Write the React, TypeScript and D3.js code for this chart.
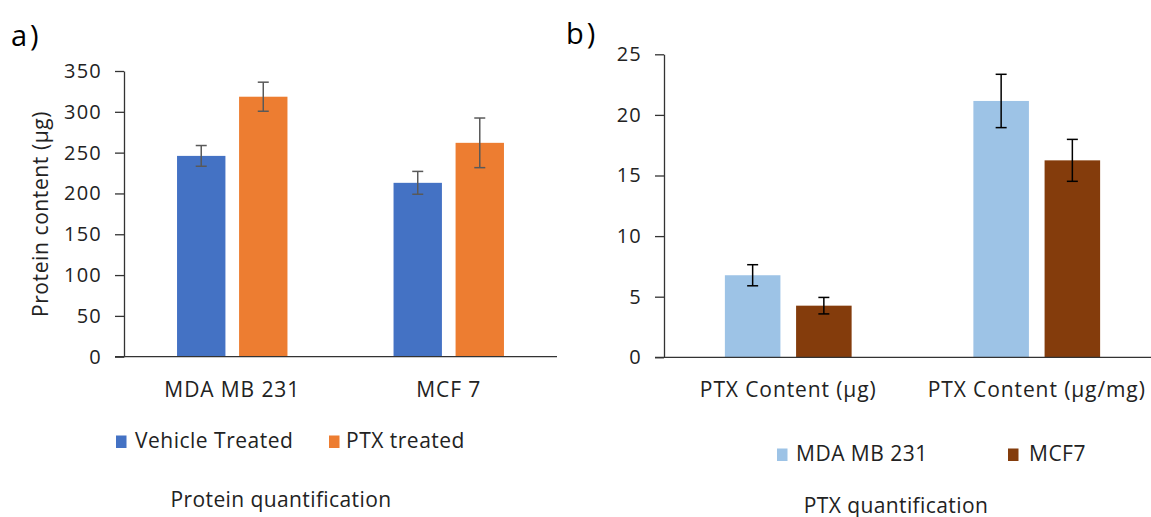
import { useEffect, useRef } from "react";
import * as d3 from "d3";

// Panel a) protein quantification
const proteinCategories = ["MDA MB 231", "MCF 7"];
const proteinSeries = ["Vehicle Treated", "PTX treated"];
const proteinVehicle = [246, 213];
const proteinVehicleErr = [12.7, 14];
const proteinPtx = [318.5, 262];
const proteinPtxErr = [17.8, 30.4];
const proteinTicks = [0, 50, 100, 150, 200, 250, 300, 350];

// Panel b) PTX quantification
const ptxCategories = ["PTX Content (µg)", "PTX Content (µg/mg)"];
const ptxSeries = ["MDA MB 231", "MCF7"];
const ptxMda = [6.77, 21.15];
const ptxMdaErr = [0.87, 2.2];
const ptxMcf = [4.26, 16.25];
const ptxMcfErr = [0.68, 1.73];
const ptxTicks = [0, 5, 10, 15, 20, 25];

const FONT = "'Open Sans', 'Noto Sans', sans-serif";
const TEXT = "#222";

type Panel = {
  categories: string[];
  series: string[];
  values: number[][];
  errors: number[][];
  colors: string[];
  errColor: string;
  ticks: number[];
  x: [number, number];
  y: [number, number];
  legend: { box: number[]; text: number[]; y: number };
  title: { text: string; x: number; y: number };
  label: { text: string; x: number; y: number };
  yTitle?: { text: string; x: number; y: number };
};

const App = () => {
  const svgRef = useRef<SVGSVGElement>(null);

  useEffect(() => {
    const svg = d3.select(svgRef.current);
    svg.selectAll("*").remove();

    const drawPanel = (p: Panel) => {
      const g = svg.append("g");
      const max = p.ticks[p.ticks.length - 1];

      const x0 = d3.scaleBand<string>().domain(p.categories).range(p.x);
      const x1 = d3
        .scaleBand<string>()
        .domain(p.series)
        .range([0, x0.bandwidth()])
        .paddingInner(0.22)
        .paddingOuter(0.855);
      const y = d3.scaleLinear().domain([0, max]).range(p.y);

      // y axis
      const yAxis = g
        .append("g")
        .attr("transform", `translate(${p.x[0]},0)`)
        .call(
          d3
            .axisLeft(y)
            .tickValues(p.ticks)
            .tickSize(9)
            .tickSizeOuter(0)
            .tickPadding(13)
        );
      yAxis.select(".domain").attr("stroke", "#333").attr("stroke-width", 1.3);
      yAxis.selectAll(".tick line").attr("stroke", "#333").attr("stroke-width", 1.3);
      yAxis
        .selectAll(".tick text")
        .attr("fill", TEXT)
        .style("font-family", FONT)
        .style("font-size", "20px")
        .style("letter-spacing", "1.2px");

      // bars
      p.series.forEach((s, si) => {
        g.append("g")
          .selectAll("rect")
          .data(p.values[si])
          .join("rect")
          .attr("x", (_, i) => (x0(p.categories[i]) ?? 0) + (x1(s) ?? 0))
          .attr("y", (d) => y(d))
          .attr("width", x1.bandwidth())
          .attr("height", (d) => y(0) - y(d))
          .attr("fill", p.colors[si]);

        // error bars
        const eg = g
          .append("g")
          .attr("stroke", p.errColor)
          .attr("stroke-width", 1.5);
        p.values[si].forEach((v, i) => {
          const cx = (x0(p.categories[i]) ?? 0) + (x1(s) ?? 0) + x1.bandwidth() / 2;
          const e = p.errors[si][i];
          eg.append("line").attr("x1", cx).attr("x2", cx).attr("y1", y(v + e)).attr("y2", y(v - e));
          [v + e, v - e].forEach((yy) =>
            eg
              .append("line")
              .attr("x1", cx - 5.5)
              .attr("x2", cx + 5.5)
              .attr("y1", y(yy))
              .attr("y2", y(yy))
          );
        });
      });

      // x axis line
      g.append("line")
        .attr("x1", p.x[0] - 9)
        .attr("x2", p.x[1])
        .attr("y1", y(0))
        .attr("y2", y(0))
        .attr("stroke", "#333")
        .attr("stroke-width", 1.3);

      // category labels
      g.append("g")
        .selectAll("text")
        .data(p.categories)
        .join("text")
        .attr("x", (d) => (x0(d) ?? 0) + x0.bandwidth() / 2)
        .attr("y", 397)
        .attr("text-anchor", "middle")
        .attr("fill", TEXT)
        .style("font-family", FONT)
        .style("font-size", "21px")
        .style("letter-spacing", "0.9px")
        .text((d) => d);

      // legend
      p.series.forEach((s, si) => {
        g.append("rect")
          .attr("x", p.legend.box[si])
          .attr("y", p.legend.y - 12.5)
          .attr("width", 10.5)
          .attr("height", 12.5)
          .attr("fill", p.colors[si]);
        g.append("text")
          .attr("x", p.legend.text[si])
          .attr("y", p.legend.y)
          .attr("fill", TEXT)
          .style("font-family", FONT)
          .style("font-size", "21px")
          .style("letter-spacing", "0.5px")
          .text(s);
      });

      // chart title (bottom)
      g.append("text")
        .attr("x", p.title.x)
        .attr("y", p.title.y)
        .attr("text-anchor", "middle")
        .attr("fill", TEXT)
        .style("font-family", FONT)
        .style("font-size", "21px")
        .style("letter-spacing", "0.4px")
        .text(p.title.text);

      // panel label
      g.append("text")
        .attr("x", p.label.x)
        .attr("y", p.label.y)
        .attr("fill", "#000")
        .style("font-family", FONT)
        .style("font-size", "29px")
        .style("letter-spacing", "3px")
        .text(p.label.text);

      if (p.yTitle) {
        g.append("text")
          .attr("transform", `translate(${p.yTitle.x},${p.yTitle.y}) rotate(-90)`)
          .attr("text-anchor", "middle")
          .attr("fill", TEXT)
          .style("font-family", FONT)
          .style("font-size", "21px")
          .style("letter-spacing", "0.6px")
          .text(p.yTitle.text);
      }
    };

    drawPanel({
      categories: proteinCategories,
      series: proteinSeries,
      values: [proteinVehicle, proteinPtx],
      errors: [proteinVehicleErr, proteinPtxErr],
      colors: ["#4472C4", "#ED7D31"],
      errColor: "#595959",
      ticks: proteinTicks,
      x: [124, 557],
      y: [356.7, 71],
      legend: { box: [116, 329], text: [135, 346], y: 448 },
      title: { text: "Protein quantification", x: 281, y: 507 },
      label: { text: "a)", x: 11, y: 46 },
      yTitle: { text: "Protein content (µg)", x: 48, y: 214 },
    });

    drawPanel({
      categories: ptxCategories,
      series: ptxSeries,
      values: [ptxMda, ptxMcf],
      errors: [ptxMdaErr, ptxMcfErr],
      colors: ["#9DC3E6", "#843C0C"],
      errColor: "#000",
      ticks: ptxTicks,
      x: [664, 1161],
      y: [357.3, 54.3],
      legend: { box: [777, 1008], text: [796, 1029], y: 461 },
      title: { text: "PTX quantification", x: 896, y: 513 },
      label: { text: "b)", x: 566, y: 44 },
    });
  }, []);

  return (
    <svg
      ref={svgRef}
      width={1151}
      height={517}
      style={{ position: "absolute", left: 0, top: 0, background: "#fff" }}
    ></svg>
  );
};

export default App;
